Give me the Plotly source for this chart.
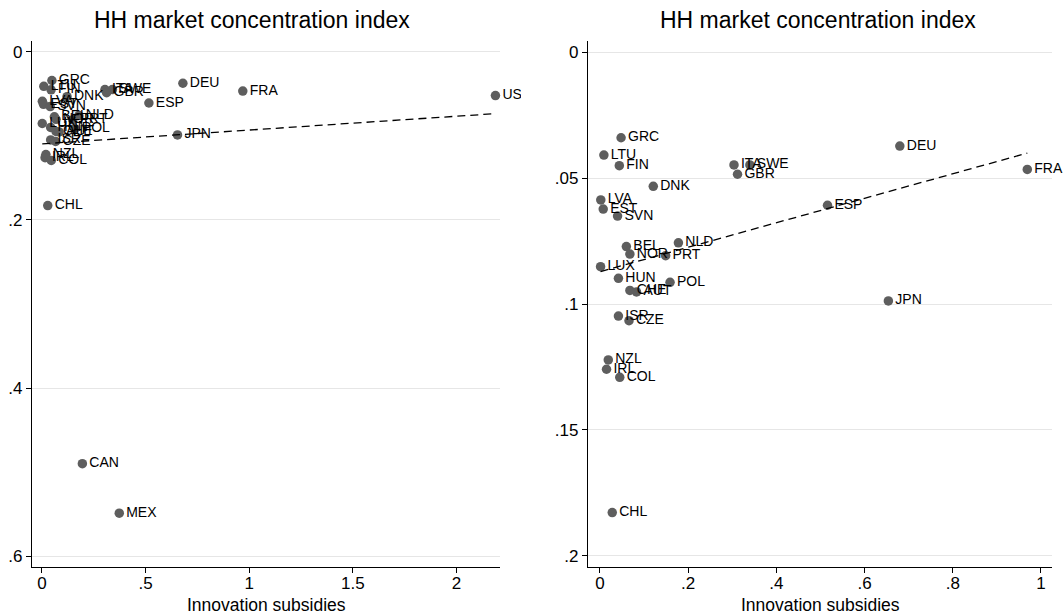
import numpy as np
import plotly.graph_objects as go

# Country-level data: innovation subsidies vs. HH market concentration index
countries = ["GRC", "LTU", "FIN", "DNK", "LVA", "EST", "SVN", "BEL", "NOR", "NLD",
             "PRT", "LUX", "HUN", "POL", "CHE", "AUT", "ISR", "CZE", "NZL", "IRL",
             "COL", "CHL", "ITA", "SWE", "GBR", "DEU", "FRA", "ESP", "JPN",
             "USA", "CAN", "MEX"]
subsidy = [0.048, 0.009, 0.044, 0.121, 0.002, 0.0075, 0.040, 0.060, 0.068, 0.178,
           0.149, 0.0015, 0.042, 0.159, 0.068, 0.083, 0.042, 0.066, 0.019, 0.015,
           0.045, 0.028, 0.304, 0.340, 0.312, 0.680, 0.969, 0.516, 0.654,
           2.188, 0.195, 0.373]
hhi = [0.0340, 0.0409, 0.0451, 0.0533, 0.0587, 0.0623, 0.0651, 0.0772, 0.0802, 0.0757,
       0.0808, 0.0852, 0.0898, 0.0914, 0.0946, 0.0952, 0.1048, 0.1066, 0.1222, 0.1259,
       0.1291, 0.1828, 0.0448, 0.0448, 0.0485, 0.0373, 0.0466, 0.0608, 0.0988,
       0.0520, 0.4900, 0.5490]
outliers = ["USA", "CAN", "MEX"]

left_xticks = [0, 0.5, 1, 1.5, 2]
left_xlabels = ["0", ".5", "1", "1.5", "2"]
left_yticks = [0, 0.2, 0.4, 0.6]
left_ylabels = ["0", ".2", ".4", ".6"]
right_xticks = [0, 0.2, 0.4, 0.6, 0.8, 1]
right_xlabels = ["0", ".2", ".4", ".6", ".8", "1"]
right_yticks = [0, 0.05, 0.1, 0.15, 0.2]
right_ylabels = ["0", ".05", ".1", ".15", ".2"]

title_text = "HH market concentration index"
xtitle_text = "Innovation subsidies"

FONT = "Liberation Sans, Arial, Helvetica, sans-serif"
MARKER = "#5e5e5e"
W, H = 1064, 615

x_all = np.array(subsidy)
y_all = np.array(hhi)
names_all = np.array(countries)
keep = ~np.isin(names_all, outliers)
x_sub, y_sub, names_sub = x_all[keep], y_all[keep], names_all[keep]


def linear_fit(x, y):
    b, a = np.polyfit(x, y, 1)
    xs = np.array([x.min(), x.max()])
    return xs, a + b * xs


fig = go.Figure()

for x, y, names, xa, ya in [(x_all, y_all, names_all, "x", "y"),
                            (x_sub, y_sub, names_sub, "x2", "y2")]:
    fig.add_trace(go.Scatter(
        x=x, y=y, text=names, mode="markers+text",
        textposition="middle right",
        textfont=dict(family=FONT, size=14, color="black"),
        marker=dict(color=MARKER, size=9.5),
        cliponaxis=False, showlegend=False, xaxis=xa, yaxis=ya))
    fx, fy = linear_fit(x, y)
    fig.add_trace(go.Scatter(
        x=fx, y=fy, mode="lines",
        line=dict(color="black", width=1.3, dash="8px,5px"),
        showlegend=False, xaxis=xa, yaxis=ya))


# pixel-based plot areas
def px_x(p):
    return p / W


def px_y(p):
    return (H - p) / H


ydom = [px_y(567), px_y(41)]
axis_common = dict(showline=True, linecolor="black", linewidth=1.2,
                   ticks="outside", ticklen=5, tickcolor="black", tickwidth=1.2,
                   tickfont=dict(family=FONT, size=17, color="black"),
                   zeroline=False)

fig.update_layout(
    width=W, height=H,
    margin=dict(l=0, r=0, t=0, b=0),
    paper_bgcolor="white", plot_bgcolor="white",
    xaxis=dict(domain=[px_x(32), px_x(500)], range=[-0.048, 2.21],
               tickvals=left_xticks, ticktext=left_xlabels, showgrid=False,
               ticklabelstandoff=-5, anchor="y", **axis_common),
    yaxis=dict(domain=ydom, range=[0.613, -0.013],
               tickvals=left_yticks, ticktext=left_ylabels,
               showgrid=True, gridcolor="#e6e6e6", gridwidth=1,
               anchor="x", **axis_common),
    xaxis2=dict(domain=[px_x(588), px_x(1052)], range=[-0.027, 1.025],
                tickvals=right_xticks, ticktext=right_xlabels, showgrid=False,
                ticklabelstandoff=-5, anchor="y2", **axis_common),
    yaxis2=dict(domain=ydom, range=[0.2044, -0.0044],
                tickvals=right_yticks, ticktext=right_ylabels,
                showgrid=True, gridcolor="#e6e6e6", gridwidth=1,
                anchor="x2", **axis_common),
)

annotations = []
for cx in (252, 818):
    annotations.append(dict(text=title_text, x=px_x(cx), y=px_y(20),
                            xref="paper", yref="paper", showarrow=False,
                            xanchor="center", yanchor="middle",
                            font=dict(family=FONT, size=23, color="black")))
for cx in (266, 820):
    annotations.append(dict(text=xtitle_text, x=px_x(cx), y=px_y(605),
                            xref="paper", yref="paper", showarrow=False,
                            xanchor="center", yanchor="middle",
                            font=dict(family=FONT, size=17.5, color="black")))
fig.update_layout(annotations=annotations)

# the left panel's graph region ends here, trimming labels that run past it
fig.add_shape(type="rect", xref="paper", yref="paper",
              x0=px_x(521), x1=px_x(548), y0=px_y(567), y1=px_y(41),
              fillcolor="white", line=dict(width=0), layer="above")

fig.write_html("out.html")
